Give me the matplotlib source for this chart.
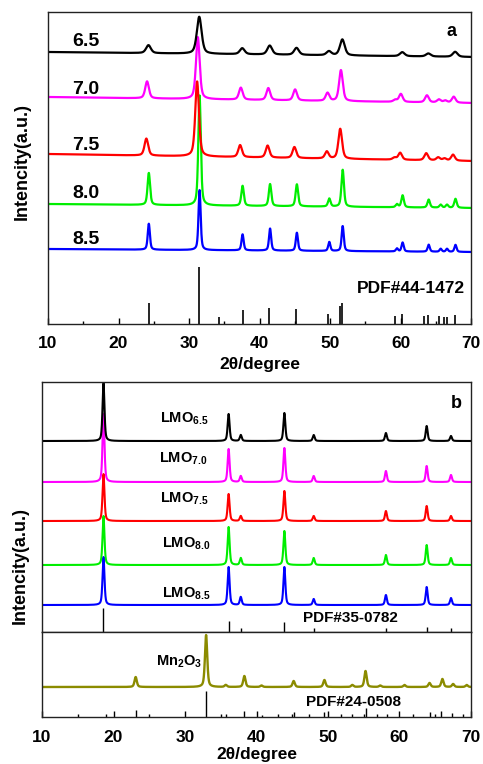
import matplotlib
matplotlib.use("Agg")
import matplotlib.pyplot as plt
import numpy as np
from matplotlib.ticker import MultipleLocator

plt.rcParams["font.family"] = ["Liberation Sans", "DejaVu Sans"]
plt.rcParams["font.weight"] = "bold"
plt.rcParams["mathtext.fontset"] = "custom"
plt.rcParams["mathtext.rm"] = "Liberation Sans"
plt.rcParams["mathtext.bf"] = "Liberation Sans:bold"

# ---- panel a: XRD of precursors at different pH ----
a_labels = ["6.5", "7.0", "7.5", "8.0", "8.5"]
a_colors = ["#000000", "#ff00ff", "#ff0000", "#00ee00", "#0000ff"]
a_pos = [24.2, 31.4, 37.5, 41.4, 45.2, 49.8, 51.7, 59.4, 60.2, 63.9, 65.6, 66.5, 67.7]
a_shift = [0.05, -0.15, -0.25, 0.1, 0.1]
a_heights = [
    [8, 37, 6, 9, 7, 4, 16, 0, 4, 3, 0, 0, 5],
    [17, 62, 12, 12, 11, 8, 31, 2, 8, 7, 3, 2, 6],
    [17, 75, 12, 12, 11, 7, 30, 2, 7, 7, 3, 2, 6],
    [32, 110, 20, 22, 22, 8, 37, 3, 12, 8, 3, 3, 9],
    [26, 60, 16, 22, 18, 9, 25, 3, 9, 7, 3, 3, 7],
]
a_fwhm = [0.8, 0.62, 0.62, 0.42, 0.36]
a_base_left = [272, 227, 170, 120, 75]
a_base_right = [267, 221, 163, 116, 72]
a_text_y = [282, 235, 178, 131, 85]

ref_a_pos = [24.3, 31.4, 34.3, 37.6, 41.4, 45.2, 49.7, 51.45, 51.65, 59.2, 60.2,
             63.35, 63.9, 65.4, 66.1, 66.6, 67.7]
ref_a_h = [21, 57, 7, 14, 16, 15, 10, 18, 21, 8, 10, 8, 9, 8, 7, 7, 9]

# ---- panel b: LiMn2O4 products ----
b_labels = ["6.5", "7.0", "7.5", "8.0", "8.5"]
b_pos = [18.6, 36.1, 37.8, 43.9, 48.0, 58.1, 63.8, 67.2]
b_heights = [
    [58, 27, 6, 28, 6, 8, 15, 5],
    [68, 33, 6, 34, 6, 11, 16, 7],
    [47, 27, 5, 30, 5, 10, 15, 5],
    [49, 38, 7, 34, 7, 10, 20, 7],
    [48, 38, 8, 38, 6, 10, 18, 7],
]
b_base = [191, 150, 111, 67, 27]
b_text_y = [210, 170, 130, 85, 35]
b_text_x = [26.5, 26.4, 26.5, 26.8, 26.8]

ref_b_pos = [18.6, 36.1, 37.8, 43.9, 48.0, 58.1, 63.8, 67.2]
ref_b_h = [24, 11, 4, 10, 4, 4, 5, 4]

mn_pos = [23.1, 32.95, 35.7, 38.3, 40.7, 45.2, 49.5, 53.4, 55.25, 57.3, 60.7,
          64.2, 66.0, 67.5, 69.4]
mn_h = [10, 52, 2, 11, 1.5, 6, 7, 2, 16, 1.5, 2, 4, 8, 3, 2]
mn_base = 30

ref_mn_pos = [18.9, 23.1, 32.95, 35.7, 38.3, 40.8, 43.0, 45.2, 47.4, 49.5, 51.8,
              53.3, 55.25, 56.8, 58.3, 61.9, 64.2, 65.8, 67.3, 68.9]
ref_mn_h = [3, 7, 26, 3, 6, 2, 3, 5, 3, 5, 3, 3, 9, 3, 3, 3, 5, 6, 4, 3]

x = np.linspace(10, 70, 4001)


def pattern(pos, heights, fwhm, base_l, base_r, shift=0.0):
    y = base_l + (base_r - base_l) * (x - 10) / 60.0
    hw = fwhm / 2.0
    for c, h in zip(pos, heights):
        d = (x - c - shift) / hw
        y = y + h * (0.5 / (1 + d ** 2) + 0.5 * np.exp(-np.log(2) * d ** 2))
    return y


def style_axis(ax, labels=True):
    ax.set_xlim(10, 70)
    ax.xaxis.set_major_locator(MultipleLocator(10))
    ax.xaxis.set_minor_locator(MultipleLocator(5))
    ax.tick_params(axis="x", which="both", direction="in", top=False,
                   labelsize=12.5, pad=9, width=1)
    ax.tick_params(axis="x", which="major", length=4)
    ax.tick_params(axis="x", which="minor", length=2.5)
    ax.tick_params(axis="y", left=False, labelleft=False)
    for s in ax.spines.values():
        s.set_linewidth(1.0)
        s.set_color("#222222")
    if not labels:
        ax.tick_params(axis="x", which="both", bottom=False, labelbottom=False)


fig = plt.figure(figsize=(4.83, 7.64), dpi=100)

# panel a
ax_a = fig.add_axes([48 / 483, 1 - 324 / 764, 423 / 483, 312 / 764])
order = [3, 4, 1, 2, 0]
for i in order:
    y = pattern(a_pos, a_heights[i], a_fwhm[i], a_base_left[i], a_base_right[i], a_shift[i])
    ax_a.plot(x, y, color=a_colors[i], lw=1.6)
for i, lab in enumerate(a_labels):
    ax_a.text(13.4, a_text_y[i], lab, fontsize=14, fontweight="bold", va="center")
ax_a.vlines(ref_a_pos, 0, ref_a_h, color="k", lw=1.2)
ax_a.text(69.2, 35, "PDF#44-1472", fontsize=12.5, fontweight="bold", ha="right", va="center")
ax_a.text(67.3, 292, "a", fontsize=13, fontweight="bold", ha="center", va="center")
ax_a.set_ylim(0, 312)
style_axis(ax_a)
ax_a.set_xlabel("2θ/degree", fontsize=12.5, fontweight="bold", labelpad=4)
fig.text(22 / 483, 1 - 162 / 764, "Intencity(a.u.)", rotation=90, fontsize=13,
         fontweight="bold", ha="center", va="center")

# panel b, upper part
ax_b = fig.add_axes([42 / 483, 1 - 632 / 764, 429 / 483, 250 / 764])
for i in [4, 3, 2, 1, 0]:
    y = pattern(b_pos, b_heights[i], 0.32, b_base[i], b_base[i])
    ax_b.plot(x, y, color=a_colors[i], lw=1.5)
    ax_b.text(b_text_x[i], b_text_y[i], "LMO$_{\\mathrm{" + b_labels[i] + "}}$",
              fontsize=10.5, fontweight="bold", va="baseline")
ax_b.vlines(ref_b_pos, 0, ref_b_h, color="k", lw=1.0)
ax_b.text(53.1, 14, "PDF#35-0782", fontsize=11, fontweight="bold", ha="center", va="center")
ax_b.text(67.9, 228, "b", fontsize=13, fontweight="bold", ha="center", va="center")
ax_b.set_ylim(0, 250)
style_axis(ax_b, labels=False)

# panel b, lower part
ax_c = fig.add_axes([42 / 483, 1 - 717 / 764, 429 / 483, 85 / 764])
ax_c.plot(x, pattern(mn_pos, mn_h, 0.38, mn_base, mn_base), color="#8b8b00", lw=1.7)
ax_c.vlines(ref_mn_pos, 0, ref_mn_h, color="k", lw=1.0)
ax_c.text(25.9, 52, "Mn$_{\\mathbf{2}}$O$_{\\mathbf{3}}$", fontsize=10.5,
          fontweight="bold", va="baseline")
ax_c.text(53.5, 15, "PDF#24-0508", fontsize=11, fontweight="bold", ha="center", va="center")
ax_c.set_ylim(0, 85)
style_axis(ax_c)
ax_c.set_xlabel("2θ/degree", fontsize=12.5, fontweight="bold", labelpad=2)
fig.text(20 / 483, 1 - 565 / 764, "Intencity(a.u.)", rotation=90, fontsize=13,
         fontweight="bold", ha="center", va="center")

fig.savefig("out.png", dpi=100)
